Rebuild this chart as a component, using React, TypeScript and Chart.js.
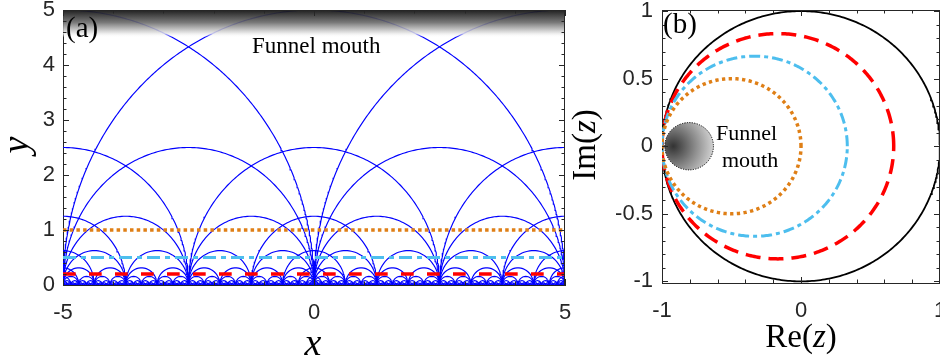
import React, { useEffect, useRef } from "react";
import { Chart, registerables } from "chart.js";
Chart.register(...registerables);

// ---------- Panel (a): upper half-plane tiling ----------
const xTicksA = [-5, 0, 5];
const yTicksA = [0, 1, 2, 3, 4, 5];
const xRangeA = [-5, 5];
const yRangeA = [0, 5];
const arcRadii = [5, 2.5, 1.25, 0.625, 0.3125, 0.15625, 0.078125, 0.0390625, 0.01953125];
const concentricCenters = [-5, 0, 5];
const lineLevelsA = [1, 0.5, 0.2]; // orange dotted, cyan dash-dot, red dashed
const mouthBand = [4.5, 5];

// ---------- Panel (b): Poincaré disk ----------
const xTicksB = [-1, 0, 1];
const yTicksB = [-1, -0.5, 0, 0.5, 1];
const xRangeB = [-1, 1];
const yRangeB = [-1.012, 1.008];
const horoRightEdge = [0, 0.333, 0.667]; // orange, cyan, red
const unitRadius = 1;
const funnelDisk = { cx: -0.805, cy: 0, r: 0.175 };

const BLUE = "#0000ff";
const RED = "#ff0000";
const CYAN = "#4dbeee";
const ORANGE = "#df7f16";
const AX = "#262626";
const SANS = "'Liberation Sans', Arial, sans-serif";
const SERIF = "'Liberation Serif', 'Times New Roman', serif";

function semicircle(c: number, r: number) {
  const n = Math.max(16, Math.ceil(r * 80));
  const pts: { x: number; y: number }[] = [];
  for (let i = 0; i <= n; i++) {
    const t = (Math.PI * i) / n;
    pts.push({ x: c + r * Math.cos(t), y: r * Math.sin(t) });
  }
  return pts;
}

function fullCircle(cx: number, cy: number, r: number) {
  const n = 400;
  const pts: { x: number; y: number }[] = [];
  for (let i = 0; i <= n; i++) {
    const t = (2 * Math.PI * i) / n;
    pts.push({ x: cx + r * Math.cos(t), y: cy + r * Math.sin(t) });
  }
  return pts;
}

function centersFor(r: number) {
  const set = new Set<number>();
  const n = Math.round(5 / r);
  for (let j = -n; j <= n; j++) if (Math.abs(j) % 2 === 1) set.add(j * r);
  concentricCenters.forEach((c) => set.add(c));
  return Array.from(set);
}

function axis(range: number[], tickVals: number[], fit: number, isX: boolean, pad: number) {
  return {
    type: "linear" as const,
    min: range[0],
    max: range[1],
    afterBuildTicks: (s: any) => {
      s.ticks = tickVals.map((v) => ({ value: v }));
    },
    afterFit: (s: any) => {
      if (isX) s.height = fit;
      else s.width = fit;
      s.paddingTop = 0;
      s.paddingBottom = 0;
      s.paddingLeft = 0;
      s.paddingRight = 0;
    },
    ticks: {
      font: { family: SANS, size: 22 },
      color: AX,
      padding: pad,
      maxRotation: 0,
      autoSkip: false,
      callback: (v: any) => String(v),
    },
    grid: { display: false, drawOnChartArea: false, drawTicks: false },
    border: { display: true, color: AX, width: 1 },
  };
}

function drawInTicks(
  ctx: CanvasRenderingContext2D,
  chart: any,
  xMajor: number[],
  xMinorStep: number,
  yMajor: number[],
  yMinorStep: number
) {
  const ca = chart.chartArea;
  const xs = chart.scales.x;
  const ys = chart.scales.y;
  const maj = 6;
  const min = 3.5;
  ctx.save();
  ctx.strokeStyle = AX;
  ctx.lineWidth = 1;
  ctx.beginPath();
  const xv = (v: number, len: number) => {
    const p = Math.round(xs.getPixelForValue(v)) + 0.5;
    ctx.moveTo(p, ca.bottom);
    ctx.lineTo(p, ca.bottom - len);
    ctx.moveTo(p, ca.top);
    ctx.lineTo(p, ca.top + len);
  };
  const yv = (v: number, len: number) => {
    const p = Math.round(ys.getPixelForValue(v)) + 0.5;
    ctx.moveTo(ca.left, p);
    ctx.lineTo(ca.left + len, p);
    ctx.moveTo(ca.right, p);
    ctx.lineTo(ca.right - len, p);
  };
  for (let i = Math.ceil(xs.min / xMinorStep - 1e-9); i <= Math.floor(xs.max / xMinorStep + 1e-9); i++) xv(i * xMinorStep, min);
  for (let i = Math.ceil(ys.min / yMinorStep - 1e-9); i <= Math.floor(ys.max / yMinorStep + 1e-9); i++) yv(i * yMinorStep, min);
  xMajor.forEach((v) => xv(v, maj));
  yMajor.forEach((v) => yv(v, maj));
  ctx.stroke();
  ctx.beginPath();
  ctx.moveTo(ca.left, Math.round(ca.top) + 0.5);
  ctx.lineTo(ca.right, Math.round(ca.top) + 0.5);
  ctx.moveTo(Math.round(ca.right) - 0.5, ca.top);
  ctx.lineTo(Math.round(ca.right) - 0.5, ca.bottom);
  ctx.stroke();
  ctx.restore();
}

const panelAPlugin = {
  id: "panelA",
  afterDatasetsDraw(chart: any) {
    const ctx: CanvasRenderingContext2D = chart.ctx;
    const ca = chart.chartArea;
    const ys = chart.scales.y;
    const yTop = ys.getPixelForValue(mouthBand[1]);
    const yBot = ys.getPixelForValue(mouthBand[0]);
    ctx.save();
    const g = ctx.createLinearGradient(0, yTop, 0, yBot);
    g.addColorStop(0, "rgba(20,20,20,0.95)");
    g.addColorStop(0.45, "rgba(105,105,105,0.9)");
    g.addColorStop(0.85, "rgba(232,232,232,0.85)");
    g.addColorStop(1, "rgba(255,255,255,0)");
    ctx.fillStyle = g;
    ctx.fillRect(ca.left, yTop, ca.right - ca.left, yBot - yTop);
    ctx.restore();

    drawInTicks(ctx, chart, xTicksA, 1, yTicksA, 0.2);

    ctx.save();
    ctx.fillStyle = "#000";
    ctx.textBaseline = "alphabetic";
    ctx.textAlign = "left";
    ctx.font = `29px ${SERIF}`;
    ctx.fillText("(a)", 66, 37);
    ctx.font = `23px ${SERIF}`;
    ctx.fillText("Funnel mouth", 252, 53);
    ctx.font = `italic 38px ${SERIF}`;
    ctx.textAlign = "center";
    ctx.fillText("x", 313, 355);
    ctx.translate(28, 145);
    ctx.rotate(-Math.PI / 2);
    ctx.fillText("y", 0, 0);
    ctx.restore();
  },
};

function drawMixed(ctx: CanvasRenderingContext2D, parts: [string, boolean][], size: number, cx: number, baseY: number) {
  let total = 0;
  const widths = parts.map(([t, it]) => {
    ctx.font = `${it ? "italic " : ""}${size}px ${SERIF}`;
    const w = ctx.measureText(t).width;
    total += w;
    return w;
  });
  let x = cx - total / 2;
  ctx.textAlign = "left";
  parts.forEach(([t, it], i) => {
    ctx.font = `${it ? "italic " : ""}${size}px ${SERIF}`;
    ctx.fillText(t, x, baseY);
    x += widths[i];
  });
}

const panelBPlugin = {
  id: "panelB",
  afterDatasetsDraw(chart: any) {
    const ctx: CanvasRenderingContext2D = chart.ctx;
    const xs = chart.scales.x;
    const ys = chart.scales.y;
    const px = xs.getPixelForValue(funnelDisk.cx);
    const py = ys.getPixelForValue(funnelDisk.cy);
    const rx = xs.getPixelForValue(funnelDisk.cx + funnelDisk.r) - px;
    const ry = py - ys.getPixelForValue(funnelDisk.cy + funnelDisk.r);
    ctx.save();
    const gx = px - 0.65 * rx;
    const g = ctx.createRadialGradient(gx, py, 0, gx, py, 1.7 * rx);
    g.addColorStop(0, "#333333");
    g.addColorStop(0.55, "#8e8e8e");
    g.addColorStop(1, "#d6d6d6");
    ctx.fillStyle = g;
    ctx.beginPath();
    ctx.ellipse(px, py, rx, ry, 0, 0, Math.PI * 2);
    ctx.fill();
    ctx.setLineDash([1.2, 1.3]);
    ctx.strokeStyle = "#000";
    ctx.lineWidth = 1;
    ctx.stroke();
    ctx.restore();

    drawInTicks(ctx, chart, xTicksB, 0.2, yTicksB, 0.1);

    ctx.save();
    ctx.fillStyle = "#000";
    ctx.textBaseline = "alphabetic";
    ctx.textAlign = "left";
    ctx.font = `29px ${SERIF}`;
    ctx.fillText("(b)", 93, 33);
    ctx.font = `22px ${SERIF}`;
    ctx.fillText("Funnel", 146, 140);
    ctx.fillText("mouth", 152, 167);
    drawMixed(ctx, [["Re(", false], ["z", true], [")", false]], 33, 231, 347);
    ctx.translate(25, 145);
    ctx.rotate(-Math.PI / 2);
    drawMixed(ctx, [["Im(", false], ["z", true], [")", false]], 33, 0, 0);
    ctx.restore();
  },
};

function configA(): any {
  const datasets: any[] = [];
  const styles = [
    { color: ORANGE, dash: [3.5, 3.2], w: 3.5 },
    { color: CYAN, dash: [13, 5, 5, 5], w: 3 },
    { color: RED, dash: [12.7, 13.3], w: 3.5 },
  ];
  lineLevelsA.forEach((c, i) => {
    datasets.push({
      data: [
        { x: xRangeA[0], y: c },
        { x: xRangeA[1], y: c },
      ],
      showLine: true,
      pointRadius: 0,
      borderColor: styles[i].color,
      borderWidth: styles[i].w,
      borderDash: styles[i].dash,
      borderCapStyle: "butt",
    });
  });
  arcRadii.forEach((r) => {
    centersFor(r).forEach((c) => {
      datasets.push({
        data: semicircle(c, r),
        showLine: true,
        pointRadius: 0,
        borderColor: BLUE,
        borderWidth: 1.15,
      });
    });
  });
  return {
    type: "scatter",
    data: { datasets },
    options: {
      animation: false,
      responsive: false,
      devicePixelRatio: 1,
      events: [],
      layout: { autoPadding: false, padding: { left: 0, right: 15, top: 10, bottom: 0 } },
      plugins: { legend: { display: false }, tooltip: { enabled: false } },
      scales: {
        x: axis(xRangeA, xTicksA, 77, true, 15),
        y: axis(yRangeA, yTicksA, 63, false, 8),
      },
    },
    plugins: [panelAPlugin],
  };
}

function configB(): any {
  const datasets: any[] = [];
  const styles = [
    { color: ORANGE, dash: [3.3, 3.4], w: 3.5 },
    { color: CYAN, dash: [11, 4, 4, 4], w: 3 },
    { color: RED, dash: [15, 8], w: 3.5 },
  ];
  horoRightEdge.forEach((R, i) => {
    const cx = (R - 1) / 2;
    const rad = (R + 1) / 2;
    datasets.push({
      data: fullCircle(cx, 0, rad),
      showLine: true,
      pointRadius: 0,
      borderColor: styles[i].color,
      borderWidth: styles[i].w,
      borderDash: styles[i].dash,
      borderCapStyle: "butt",
    });
  });
  datasets.push({
    data: fullCircle(0, 0, unitRadius),
    showLine: true,
    pointRadius: 0,
    borderColor: "#000",
    borderWidth: 1.8,
  });
  return {
    type: "scatter",
    data: { datasets },
    options: {
      animation: false,
      responsive: false,
      devicePixelRatio: 1,
      events: [],
      layout: { autoPadding: false, padding: { left: 0, right: 0, top: 10, bottom: 0 } },
      plugins: { legend: { display: false }, tooltip: { enabled: false } },
      scales: {
        x: axis(xRangeB, xTicksB, 79, true, 15),
        y: axis(yRangeB, yTicksB, 92, false, 9),
      },
    },
    plugins: [panelBPlugin],
  };
}

export default function App() {
  const refA = useRef<HTMLCanvasElement>(null);
  const refB = useRef<HTMLCanvasElement>(null);
  useEffect(() => {
    const a = new Chart(refA.current as HTMLCanvasElement, configA());
    const b = new Chart(refB.current as HTMLCanvasElement, configB());
    return () => {
      a.destroy();
      b.destroy();
    };
  }, []);
  return (
    <div style={{ position: "absolute", left: 0, top: 0, width: 940, height: 362, background: "#fff", overflow: "hidden" }}>
      <canvas ref={refA} width={580} height={362} style={{ position: "absolute", left: 0, top: 0, width: 580, height: 362 }} />
      <canvas ref={refB} width={370} height={362} style={{ position: "absolute", left: 570, top: 0, width: 370, height: 362 }} />
    </div>
  );
}
